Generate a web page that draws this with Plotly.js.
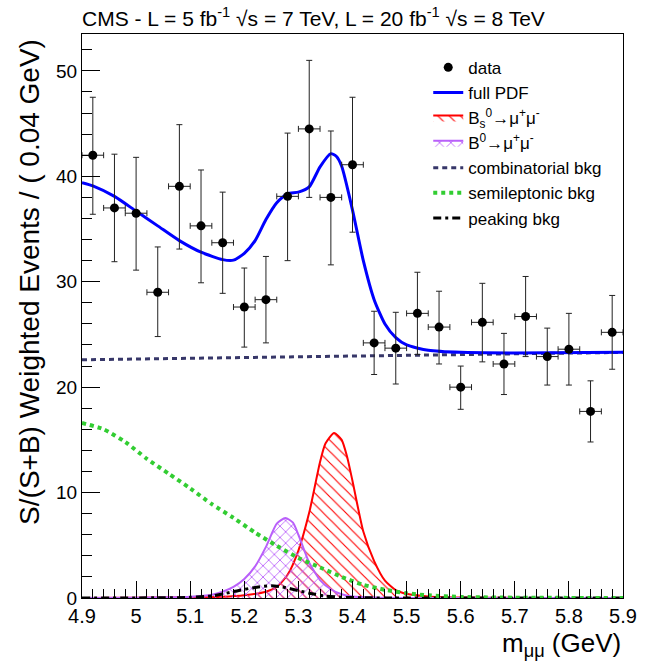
<!DOCTYPE html>
<html>
<head>
<meta charset="utf-8">
<script src="https://cdn.plot.ly/plotly-3.0.1.min.js"></script>
<style>html,body{margin:0;padding:0;background:#fff;}#chart{width:647px;height:666px;}</style>
</head>
<body>
<div id="chart"></div>
<script>
// ---- data ----
const binCenters = [4.92,4.96,5.00,5.04,5.08,5.12,5.16,5.20,5.24,5.28,5.32,5.36,5.40,5.44,5.48,5.52,5.56,5.60,5.64,5.68,5.72,5.76,5.80,5.84,5.88];
const dataY      = [42.0,37.0,36.5,29.0,39.05,35.3,33.7,27.6,28.3,38.1,44.5,38.0,41.1,24.2,23.7,27.0,25.7,20.0,26.15,22.2,26.7,22.9,23.6,17.7,25.2];
const errUp      = [5.5,5.1,5.3,4.3,5.85,5.3,4.8,3.7,4.1,6.0,6.5,6.3,6.4,3.0,3.4,3.9,3.4,2.0,3.7,2.9,3.8,2.7,3.4,2.9,3.5];
const errDown    = [5.6,5.1,5.4,4.2,5.95,5.4,4.8,3.8,4.1,6.1,6.5,6.4,6.4,3.0,3.4,3.9,3.5,2.1,3.75,2.9,3.8,2.7,3.4,2.9,3.5];
const binHalfWidth = 0.02;

const pdfX = [4.90,4.92,4.96,5.00,5.04,5.08,5.12,5.16,5.18,5.20,5.22,5.24,5.26,5.28,5.30,5.32,5.34,5.36,5.37,5.38,5.40,5.42,5.44,5.46,5.48,5.50,5.54,5.60,5.70,5.90];
const pdfY = [39.4,39.1,38.1,36.7,35.3,33.9,32.8,32.1,32.05,32.7,33.9,35.9,37.5,38.35,38.5,39.0,40.9,42.15,41.9,40.95,36.8,32.0,28.3,26.0,24.7,24.0,23.5,23.3,23.25,23.3];

const bsX = [4.90,5.00,5.10,5.16,5.20,5.24,5.26,5.28,5.30,5.32,5.34,5.35,5.366,5.38,5.39,5.40,5.42,5.44,5.46,5.48,5.50,5.54,5.60,5.70,5.90];
const bsY = [0.0,0.02,0.06,0.12,0.26,0.6,1.05,2.2,4.5,8.1,12.9,14.65,15.65,15.0,13.4,11.1,6.3,3.5,1.65,0.75,0.4,0.15,0.05,0.01,0.0];

const b0X = [4.90,5.00,5.06,5.10,5.14,5.16,5.18,5.20,5.22,5.24,5.26,5.276,5.29,5.30,5.32,5.34,5.36,5.38,5.40,5.44,5.50,5.90];
const b0Y = [0.0,0.02,0.06,0.12,0.31,0.6,1.05,1.8,3.0,4.85,7.05,7.59,7.15,6.0,3.35,1.7,0.83,0.35,0.15,0.05,0.01,0.0];

const combX = [4.90,5.45,5.90];
const combY = [22.6,23.0,23.3];

const semiX = [4.90,4.94,4.98,5.02,5.06,5.10,5.14,5.18,5.22,5.26,5.30,5.34,5.38,5.42,5.46,5.50,5.54,5.60,5.70,5.90];
const semiY = [16.6,16.0,14.8,13.2,11.8,10.4,8.9,7.6,6.2,4.95,3.8,2.9,2.0,1.25,0.78,0.45,0.25,0.1,0.03,0.0];

const peakX = [4.90,5.05,5.10,5.14,5.16,5.19,5.22,5.25,5.27,5.30,5.325,5.35,5.38,5.42,5.50,5.90];
const peakY = [0.0,0.02,0.06,0.2,0.38,0.72,1.0,1.17,1.05,0.7,0.4,0.19,0.07,0.02,0.0,0.0];

const legendNames = ['data','full PDF','B<sub>s</sub><sup>0</sup>→μ<sup>+</sup>μ<sup>-</sup>','B<sup>0</sup>→μ<sup>+</sup>μ<sup>-</sup>','combinatorial bkg','semileptonic bkg','peaking bkg'];
const titleText = 'CMS - L = 5 fb<sup>-1</sup> √s = 7 TeV, L = 20 fb<sup>-1</sup> √s = 8 TeV';
const xTitle = 'm<sub>μμ</sub> (GeV)';
const yTitle = 'S/(S+B) Weighted Events / ( 0.04 GeV)';

const FONT = 'Liberation Sans, Arial, Helvetica, sans-serif';
const purple = 'rgb(185,95,250)';

const traces = [
  {x: bsX, y: bsY, name: legendNames[2], legendrank: 3, type: 'scatter', mode: 'lines',
   line: {color: 'red', width: 2, shape: 'spline', smoothing: 0.6}, fill: 'tozeroy', fillcolor: 'rgba(0,0,0,0)',
   fillpattern: {shape: '\\', fgcolor: 'red', bgcolor: 'rgba(255,255,255,0)', size: 8, solidity: 0.14}},
  {x: b0X, y: b0Y, name: legendNames[3], legendrank: 4, type: 'scatter', mode: 'lines',
   line: {color: purple, width: 2, shape: 'spline', smoothing: 0.6}, fill: 'tozeroy', fillcolor: 'rgba(0,0,0,0)',
   fillpattern: {shape: 'x', fgcolor: purple, bgcolor: 'rgba(255,255,255,0)', size: 8, solidity: 0.2}},
  {x: peakX, y: peakY, name: legendNames[6], legendrank: 7, type: 'scatter', mode: 'lines',
   line: {color: 'black', width: 3, dash: '8px,4px,3px,4px', shape: 'spline', smoothing: 0.6}},
  {x: semiX, y: semiY, name: legendNames[5], legendrank: 6, type: 'scatter', mode: 'lines',
   line: {color: 'rgb(50,205,50)', width: 4, dash: '4px,4px', shape: 'spline', smoothing: 0.6}},
  {x: combX, y: combY, name: legendNames[4], legendrank: 5, type: 'scatter', mode: 'lines',
   line: {color: 'rgb(55,55,105)', width: 3, dash: '5px,4px'}},
  {x: pdfX, y: pdfY, name: legendNames[1], legendrank: 2, type: 'scatter', mode: 'lines',
   line: {color: 'rgb(0,0,255)', width: 3, shape: 'spline', smoothing: 0.6}},
  {x: binCenters, y: dataY, name: legendNames[0], legendrank: 1, type: 'scatter', mode: 'markers',
   marker: {color: 'black', size: 9},
   error_y: {type: 'data', symmetric: false, array: errUp, arrayminus: errDown, color: '#222', thickness: 1, width: 3},
   error_x: {type: 'constant', value: binHalfWidth, color: '#222', thickness: 1, width: 3}}
];

const layout = {
  width: 647, height: 666,
  margin: {l: 82, r: 23.5, t: 34, b: 68, pad: 0},
  paper_bgcolor: 'white', plot_bgcolor: 'white',
  font: {family: FONT, color: 'black'},
  showlegend: true,
  title: {text: titleText, x: 82/647, xref: 'container', xanchor: 'left', y: 1 - 11/666, yref: 'container', yanchor: 'top',
          font: {family: FONT, size: 21, color: 'black'}},
  legend: {x: 0.64, y: 0.972, xanchor: 'left', yanchor: 'top', bgcolor: 'rgba(255,255,255,0)', borderwidth: 0,
           font: {family: FONT, size: 17, color: 'black'}, traceorder: 'normal', itemwidth: 30},
  xaxis: {range: [4.9, 5.9], tick0: 4.9, dtick: 0.1, ticks: 'inside', ticklen: 17, tickwidth: 1, tickcolor: 'black',
          showline: true, mirror: true, linecolor: 'black', linewidth: 1, showgrid: false, zeroline: false,
          tickfont: {family: FONT, size: 20, color: 'black'},
          minor: {dtick: 0.02, ticks: 'inside', ticklen: 9, tickwidth: 1, tickcolor: 'black', showgrid: false}},
  yaxis: {range: [0, 53.5], tick0: 0, dtick: 10, ticks: 'inside', ticklen: 18, tickwidth: 1, tickcolor: 'black',
          showline: true, mirror: true, linecolor: 'black', linewidth: 1, showgrid: false, zeroline: false,
          tickfont: {family: FONT, size: 19, color: 'black'},
          minor: {dtick: 2, ticks: 'inside', ticklen: 10, tickwidth: 1, tickcolor: 'black', showgrid: false}},
  annotations: [
    {text: xTitle, xref: 'paper', yref: 'paper', x: 1, y: -0.083, xanchor: 'right', yanchor: 'middle', showarrow: false,
     font: {family: FONT, size: 26, color: 'black'}},
    {text: yTitle, xref: 'paper', yref: 'paper', x: -0.096, y: 0.995, xanchor: 'center', yanchor: 'top', textangle: -90, showarrow: false,
     font: {family: FONT, size: 28, color: 'black'}}
  ]
};

Plotly.newPlot('chart', traces, layout, {displayModeBar: false, staticPlot: true});
</script>
</body>
</html>
